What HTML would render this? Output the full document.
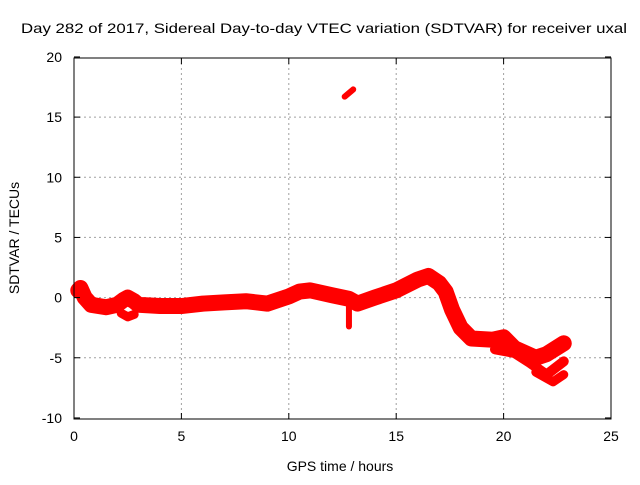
<!DOCTYPE html>
<html><head><meta charset="utf-8"><style>
body{margin:0;background:#fff}
svg text{font-family:"Liberation Sans",sans-serif;font-size:14px;fill:#000}
</style></head><body>
<svg id="c" width="640" height="480">
<rect width="640" height="480" fill="#fff"/>
<g id="grid"></g>
<g id="marks"></g>
<rect x="74" y="58" width="537" height="361" fill="none" stroke="#000"/>
<g id="ticks"></g>
<text x="21" y="33" textLength="606" lengthAdjust="spacingAndGlyphs">Day 282 of 2017, Sidereal Day-to-day VTEC variation (SDTVAR) for receiver uxal</text>
<text x="340" y="471" text-anchor="middle">GPS time / hours</text>
<text transform="translate(19,238) rotate(-90)" text-anchor="middle">SDTVAR / TECUs</text>
</svg>
<script>
const xTicks=[0,5,10,15,20,25];
const yTicks=[-10,-5,0,5,10,15,20];
const mainHours=[0.2,0.3,0.5,0.8,1.5,2.0,2.3,2.5,2.8,3.0,4,5,6,7,8,9,10,10.5,11,12,12.8,13.2,14,15,16,16.5,17,17.3,17.6,18,18.5,19.5,20,20.5,21.5,22,22.8];
const mainVals=[0.6,0.8,0,-0.6,-0.8,-0.6,-0.2,0,-0.3,-0.6,-0.7,-0.7,-0.5,-0.4,-0.3,-0.5,0.1,0.5,0.6,0.2,-0.1,-0.5,0,0.6,1.5,1.8,1.2,0.5,-1,-2.5,-3.4,-3.5,-3.3,-4.2,-5,-4.7,-3.8];
const low1Hours=[2.2,2.5,2.8];
const low1Vals=[-1.3,-1.6,-1.4];
const low2Hours=[19.6,20.5,21.2,22,22.8];
const low2Vals=[-4.3,-4.6,-5.4,-6.4,-5.3];
const low3Hours=[21.5,22.3,22.8];
const low3Vals=[-6.2,-7.0,-6.4];
const spikeHours=[12.8,12.8];
const spikeVals=[-0.3,-2.4];
const outHours=[12.6,13.0];
const outVals=[16.7,17.3];
const X=h=>74+h*(537/25);
const Y=v=>297.6-v*(361/30);
const NS='http://www.w3.org/2000/svg';
function mk(t,a,p){const e=document.createElementNS(NS,t);for(const k in a)e.setAttribute(k,a[k]);p.appendChild(e);return e;}
const grid=document.getElementById('grid'),ticks=document.getElementById('ticks'),marks=document.getElementById('marks');
xTicks.forEach(t=>{
 if(t>0&&t<25){const l=mk('line',{x1:X(t),x2:X(t),y1:58,y2:419,stroke:'#a0a0a0','stroke-dasharray':'2,3'},grid);
 
 }
 mk('line',{x1:X(t),x2:X(t),y1:419,y2:413,stroke:'#000'},ticks);
 mk('line',{x1:X(t),x2:X(t),y1:58,y2:64,stroke:'#000'},ticks);
 const tx=mk('text',{x:X(t),y:441,'text-anchor':'middle'},ticks);tx.textContent=t;
 
 
});
yTicks.forEach(t=>{
 if(t>-10&&t<20){const l=mk('line',{x1:74,x2:611,y1:Y(t),y2:Y(t),stroke:'#a0a0a0','stroke-dasharray':'2,3'},grid);
 
 }
 mk('line',{x1:74,x2:80,y1:Y(t),y2:Y(t),stroke:'#000'},ticks);
 mk('line',{x1:605,x2:611,y1:Y(t),y2:Y(t),stroke:'#000'},ticks);
 const tx=mk('text',{x:62,y:Y(t)+5,'text-anchor':'end'},ticks);tx.textContent=t;
 
 
});
function track(hs,vs,w,name){
 const pts=hs.map((h,i)=>X(h)+','+Y(vs[i])).join(' ');
 const p=mk('polyline',{points:pts,fill:'none',stroke:'#ff0000','stroke-width':w,'stroke-linejoin':'round','stroke-linecap':'round'},marks);
 
 
}
track(mainHours,mainVals,16,'main-track');
track(low1Hours,low1Vals,9,'lower-track-early');
track(low2Hours,low2Vals,10,'lower-track-late');
track(low3Hours,low3Vals,9,'lowest-track-late');
track(spikeHours,spikeVals,6,'dip-spike');
track(outHours,outVals,6,'outlier-segment');
</script>
</body></html>
